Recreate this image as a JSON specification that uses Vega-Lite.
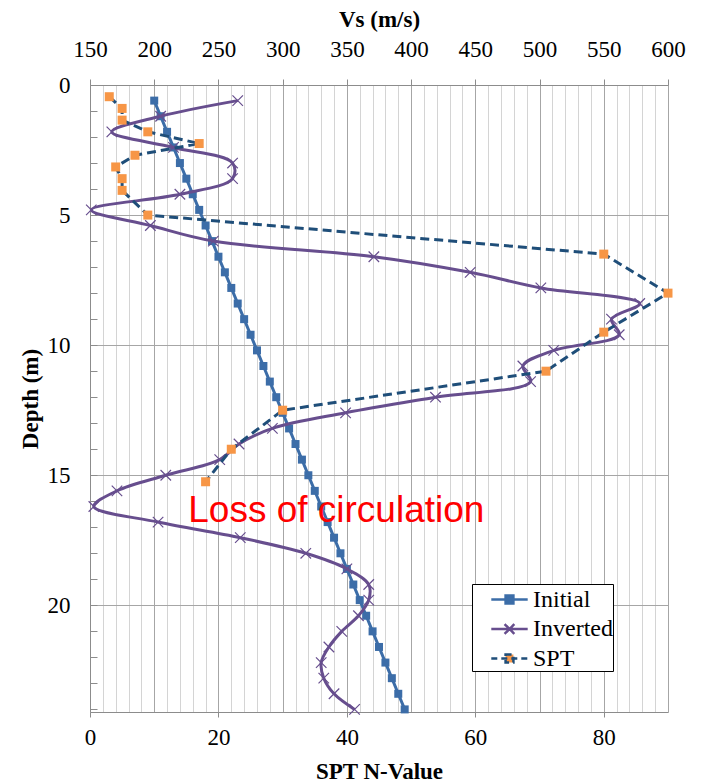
{
  "$schema": "https://vega.github.io/schema/vega-lite/v6.json",
  "width": 578,
  "height": 627,
  "autosize": {"type": "none"},
  "padding": {"left": 90, "top": 85, "right": 36, "bottom": 72},
  "background": "white",
  "config": {
    "font": "Liberation Serif",
    "view": {"stroke": null},
    "axis": {
      "labelFont": "Liberation Serif",
      "labelFontSize": 23,
      "labelColor": "#000",
      "labelFlush": false,
      "titleFont": "Liberation Serif",
      "titleFontSize": 23,
      "titleFontWeight": "bold",
      "titleColor": "#000",
      "domainColor": "#8c8c8c",
      "tickColor": "#8c8c8c",
      "gridColor": "#a6a6a6"
    },
    "legend": {"labelFont": "Liberation Serif"}
  },
  "datasets": {
    "profiles": [
      {"series": "Initial", "depth": 0.6, "vs": 200}, {"series": "Initial", "depth": 1.2, "vs": 205},
      {"series": "Initial", "depth": 1.8, "vs": 210}, {"series": "Initial", "depth": 2.4, "vs": 215},
      {"series": "Initial", "depth": 3.0, "vs": 220}, {"series": "Initial", "depth": 3.6, "vs": 225},
      {"series": "Initial", "depth": 4.2, "vs": 230}, {"series": "Initial", "depth": 4.8, "vs": 235},
      {"series": "Initial", "depth": 5.4, "vs": 240}, {"series": "Initial", "depth": 6.0, "vs": 245},
      {"series": "Initial", "depth": 6.6, "vs": 250}, {"series": "Initial", "depth": 7.2, "vs": 255},
      {"series": "Initial", "depth": 7.8, "vs": 260}, {"series": "Initial", "depth": 8.4, "vs": 265},
      {"series": "Initial", "depth": 9.0, "vs": 270}, {"series": "Initial", "depth": 9.6, "vs": 275},
      {"series": "Initial", "depth": 10.2, "vs": 280}, {"series": "Initial", "depth": 10.8, "vs": 285},
      {"series": "Initial", "depth": 11.4, "vs": 290}, {"series": "Initial", "depth": 12.0, "vs": 295},
      {"series": "Initial", "depth": 12.6, "vs": 300}, {"series": "Initial", "depth": 13.2, "vs": 305},
      {"series": "Initial", "depth": 13.8, "vs": 310}, {"series": "Initial", "depth": 14.4, "vs": 315},
      {"series": "Initial", "depth": 15.0, "vs": 320}, {"series": "Initial", "depth": 15.6, "vs": 325},
      {"series": "Initial", "depth": 16.2, "vs": 330}, {"series": "Initial", "depth": 16.8, "vs": 335},
      {"series": "Initial", "depth": 17.4, "vs": 340}, {"series": "Initial", "depth": 18.0, "vs": 345},
      {"series": "Initial", "depth": 18.6, "vs": 350}, {"series": "Initial", "depth": 19.2, "vs": 355},
      {"series": "Initial", "depth": 19.8, "vs": 360}, {"series": "Initial", "depth": 20.4, "vs": 365},
      {"series": "Initial", "depth": 21.0, "vs": 370}, {"series": "Initial", "depth": 21.6, "vs": 375},
      {"series": "Initial", "depth": 22.2, "vs": 380}, {"series": "Initial", "depth": 22.8, "vs": 385},
      {"series": "Initial", "depth": 23.4, "vs": 390}, {"series": "Initial", "depth": 24.0, "vs": 395},
      {"series": "Inverted", "depth": 0.6, "vs": 265}, {"series": "Inverted", "depth": 1.2, "vs": 205},
      {"series": "Inverted", "depth": 1.8, "vs": 167}, {"series": "Inverted", "depth": 2.4, "vs": 215},
      {"series": "Inverted", "depth": 3.0, "vs": 261}, {"series": "Inverted", "depth": 3.6, "vs": 261},
      {"series": "Inverted", "depth": 4.2, "vs": 220}, {"series": "Inverted", "depth": 4.8, "vs": 151},
      {"series": "Inverted", "depth": 5.4, "vs": 197}, {"series": "Inverted", "depth": 6.0, "vs": 246},
      {"series": "Inverted", "depth": 6.6, "vs": 371}, {"series": "Inverted", "depth": 7.2, "vs": 446},
      {"series": "Inverted", "depth": 7.8, "vs": 501}, {"series": "Inverted", "depth": 8.4, "vs": 578},
      {"series": "Inverted", "depth": 9.0, "vs": 556}, {"series": "Inverted", "depth": 9.6, "vs": 562},
      {"series": "Inverted", "depth": 10.2, "vs": 511}, {"series": "Inverted", "depth": 10.8, "vs": 487},
      {"series": "Inverted", "depth": 11.4, "vs": 493}, {"series": "Inverted", "depth": 12.0, "vs": 419},
      {"series": "Inverted", "depth": 12.6, "vs": 349}, {"series": "Inverted", "depth": 13.2, "vs": 292},
      {"series": "Inverted", "depth": 13.8, "vs": 266}, {"series": "Inverted", "depth": 14.4, "vs": 251},
      {"series": "Inverted", "depth": 15.0, "vs": 209}, {"series": "Inverted", "depth": 15.6, "vs": 171},
      {"series": "Inverted", "depth": 16.2, "vs": 153}, {"series": "Inverted", "depth": 16.8, "vs": 203},
      {"series": "Inverted", "depth": 17.4, "vs": 267}, {"series": "Inverted", "depth": 18.0, "vs": 318},
      {"series": "Inverted", "depth": 18.6, "vs": 350}, {"series": "Inverted", "depth": 19.2, "vs": 367},
      {"series": "Inverted", "depth": 19.8, "vs": 367}, {"series": "Inverted", "depth": 20.4, "vs": 359},
      {"series": "Inverted", "depth": 21.0, "vs": 346}, {"series": "Inverted", "depth": 21.6, "vs": 336},
      {"series": "Inverted", "depth": 22.2, "vs": 330}, {"series": "Inverted", "depth": 22.8, "vs": 332},
      {"series": "Inverted", "depth": 23.4, "vs": 340}, {"series": "Inverted", "depth": 24.0, "vs": 356}
    ],
    "spt": [
      {"series": "SPT", "depth": 0.45, "n": 3}, {"series": "SPT", "depth": 0.9, "n": 5},
      {"series": "SPT", "depth": 1.35, "n": 5}, {"series": "SPT", "depth": 1.8, "n": 9},
      {"series": "SPT", "depth": 2.25, "n": 17}, {"series": "SPT", "depth": 2.7, "n": 7},
      {"series": "SPT", "depth": 3.15, "n": 4}, {"series": "SPT", "depth": 3.6, "n": 5},
      {"series": "SPT", "depth": 4.05, "n": 5}, {"series": "SPT", "depth": 5.0, "n": 9},
      {"series": "SPT", "depth": 6.5, "n": 80}, {"series": "SPT", "depth": 8.0, "n": 90},
      {"series": "SPT", "depth": 9.5, "n": 80}, {"series": "SPT", "depth": 11.0, "n": 71},
      {"series": "SPT", "depth": 12.5, "n": 30}, {"series": "SPT", "depth": 14.0, "n": 22},
      {"series": "SPT", "depth": 15.25, "n": 18}
    ],
    "notes": [
      {"text": "Loss of circulation", "depth": 16.8, "n": 15.3}
    ]
  },
  "encoding": {
    "y": {
      "field": "depth",
      "type": "quantitative",
      "scale": {"domain": [0, 24.1], "reverse": true, "nice": false, "zero": false},
      "axis": {
        "title": "Depth (m)",
        "values": [0,1,2,3,4,5,6,7,8,9,10,11,12,13,14,15,16,17,18,19,20,21,22,23,24],
        "labelExpr": "datum.value % 5 === 0 ? datum.label : ''",
        "gridOpacity": {"condition": {"test": "datum.value % 5 === 0", "value": 1}, "value": 0},
        "tickSize": -7,
        "labelPadding": 27,
        "titlePadding": 5
      }
    }
  },
  "layer": [
    {
      "data": {"name": "profiles"},
      "encoding": {
        "x": {
          "field": "vs",
          "type": "quantitative",
          "scale": {"domain": [150, 600], "nice": false, "zero": false},
          "axis": {
            "orient": "top",
            "title": "Vs (m/s)",
            "values": [150,160,170,180,190,200,210,220,230,240,250,260,270,280,290,300,310,320,330,340,350,360,370,380,390,400,410,420,430,440,450,460,470,480,490,500,510,520,530,540,550,560,570,580,590,600],
            "labelExpr": "datum.value % 50 === 0 ? datum.label : ''",
            "gridColor": {"condition": {"test": "datum.value % 50 === 0", "value": "#a6a6a6"}, "value": "#d4d4d4"},
            "tickSize": {"condition": {"test": "datum.value % 50 === 0", "value": 6}, "value": 0},
            "labelPadding": 18,
            "titlePadding": 7
          }
        }
      },
      "layer": [
        {
          "transform": [{"filter": "datum.series === 'Initial'"}],
          "mark": {"type": "line", "strokeWidth": 3},
          "encoding": {
            "order": {"field": "depth", "type": "quantitative"},
            "color": {
              "field": "series",
              "type": "nominal",
              "scale": {"domain": ["Initial", "Inverted", "SPT"], "range": ["#3c6da8", "#674e8e", "#1f4e79"]},
              "legend": {
                "title": null,
                "orient": "none",
                "legendX": 382,
                "legendY": 499,
                "padding": 0,
                "strokeColor": "#000",
                "fillColor": "white",
                "labelFontSize": 24,
                "labelColor": "#000",
                "labelOffset": 8,
                "labelExpr": "datum.label + '\u00a0\u00a0\u00a0'",
                "symbolOffset": 22,
                "symbolSize": 784,
                "symbolStrokeWidth": 2.5,
                "rowPadding": 1.5,
                "encode": {
                  "symbols": {
                    "update": {
                      "shape": {"signal": "datum.value === 'Inverted' ? 'M-1.3,0H1.3M-0.35,-0.35L0.35,0.35M-0.35,0.35L0.35,-0.35' : 'M-1.3,0H1.3M-0.28,-0.28H0.28V0.28H-0.28Z'"},
                      "fill": {"signal": "datum.value === 'Initial' ? '#3c6da8' : datum.value === 'SPT' ? '#f79646' : 'transparent'"},
                      "strokeDash": {"signal": "datum.value === 'SPT' ? [6, 4] : [1, 0]"}
                    }
                  }
                }
              }
            }
          }
        },
        {
          "transform": [{"filter": "datum.series === 'Initial'"}],
          "mark": {"type": "point", "shape": "square", "filled": true, "size": 64, "opacity": 1, "color": "#3c6da8"}
        },
        {
          "transform": [{"filter": "datum.series === 'Inverted'"}],
          "mark": {"type": "line", "strokeWidth": 3, "interpolate": "catmull-rom"},
          "encoding": {
            "order": {"field": "depth", "type": "quantitative"},
            "color": {"field": "series", "type": "nominal"}
          }
        },
        {
          "transform": [{"filter": "datum.series === 'Inverted'"}],
          "mark": {"type": "point", "shape": "M-1,-1L1,1M-1,1L1,-1", "filled": false, "size": 110, "opacity": 1, "strokeWidth": 1.2, "color": "#674e8e"}
        }
      ]
    },
    {
      "layer": [
        {
          "data": {"name": "spt"},
          "mark": {"type": "line", "strokeWidth": 3, "strokeDash": [9, 5]},
          "encoding": {
            "x": {
              "field": "n",
              "type": "quantitative",
              "scale": {"domain": [0, 90], "nice": false, "zero": false},
              "axis": {
                "orient": "bottom",
                "title": "SPT N-Value",
                "values": [0, 20, 40, 60, 80],
                "grid": false,
                "tickSize": 5,
                "labelPadding": 9,
                "titlePadding": 11
              }
            },
            "order": {"field": "depth", "type": "quantitative"},
            "color": {"field": "series", "type": "nominal"}
          }
        },
        {
          "data": {"name": "spt"},
          "mark": {"type": "point", "shape": "square", "filled": true, "size": 81, "opacity": 1, "color": "#f79646"},
          "encoding": {
            "x": {"field": "n", "type": "quantitative"}
          }
        },
        {
          "data": {"name": "notes"},
          "mark": {"type": "text", "font": "Liberation Sans", "fontSize": 37, "color": "#ff0000", "align": "left", "baseline": "alphabetic"},
          "encoding": {
            "x": {"field": "n", "type": "quantitative"},
            "text": {"field": "text"}
          }
        }
      ]
    }
  ],
  "resolve": {"scale": {"x": "independent"}}
}
